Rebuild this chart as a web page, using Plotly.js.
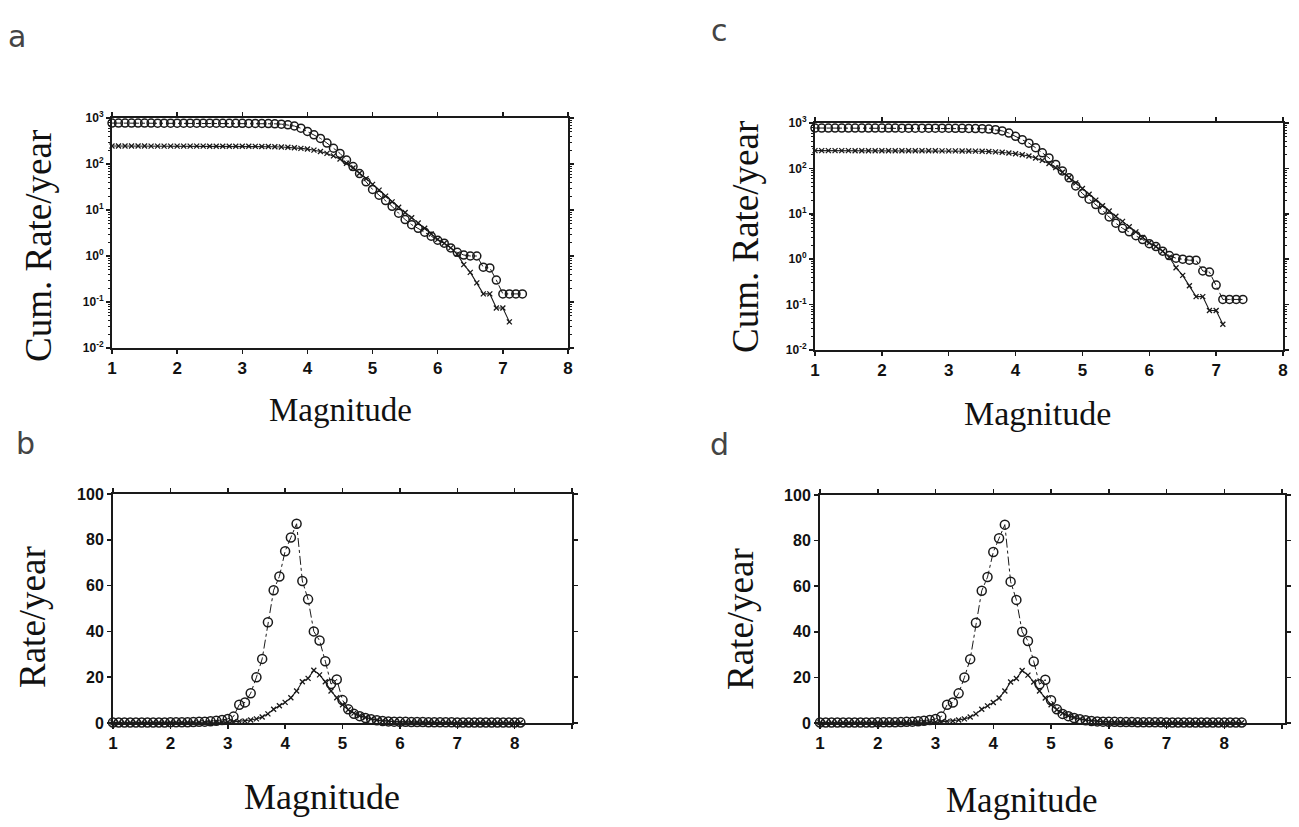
<!DOCTYPE html>
<html>
<head>
<meta charset="utf-8">
<script src="https://cdn.plot.ly/plotly-3.0.1.min.js"></script>
<style>html,body{margin:0;padding:0;background:#fff;}#chart{width:1299px;height:827px;}</style>
</head>
<body>
<div id="chart"></div>
<script>
// Magnitude bins (0.1 step)
const mags = [1.0,1.1,1.2,1.3,1.4,1.5,1.6,1.7,1.8,1.9,
  2.0,2.1,2.2,2.3,2.4,2.5,2.6,2.7,2.8,2.9,
  3.0,3.1,3.2,3.3,3.4,3.5,3.6,3.7,3.8,3.9,
  4.0,4.1,4.2,4.3,4.4,4.5,4.6,4.7,4.8,4.9,
  5.0,5.1,5.2,5.3,5.4,5.5,5.6,5.7,5.8,5.9,
  6.0,6.1,6.2,6.3,6.4,6.5,6.6,6.7,6.8,6.9,
  7.0,7.1,7.2,7.3,7.4,7.5,7.6,7.7,7.8,7.9,
  8.0,8.1,8.2,8.3];

// Panel a: cumulative rate/year
const cumCircA = [775,775,775,774,774,774,774,773,773,773,
  772,772,772,771,771,770,770,769,768,767,
  766,764,762,759,755,748,735,712,670,600,
  510,430,360,285,220,170,122,88,62,41,
  28,21,16,12,8.5,6.2,4.8,4.0,3.3,2.7,
  2.2,1.9,1.5,1.2,1.05,1.0,1.0,0.57,0.55,0.30,
  0.15,0.15,0.15,0.15];
const cumCrossA = [246,246,246,246,246,246,245,245,245,245,
  245,245,245,245,245,244,244,244,244,243,
  243,243,242,241,240,238,235,231,226,219,
  211,200,187,170,150,128,104,82,63,48,
  36,27,20,15,11.5,8.8,6.8,5.2,4.0,3.0,
  2.3,1.9,1.5,1.1,0.65,0.44,0.26,0.15,0.15,0.074,
  0.074,0.037];

// Panel c: cumulative rate/year
const cumCircC = [775,775,775,774,774,774,774,773,773,773,
  772,772,772,771,771,770,770,769,768,767,
  766,764,762,759,755,748,735,712,670,600,
  510,430,360,285,220,170,122,88,62,41,
  28,21,16,12,8.5,6.2,4.8,4.0,3.3,2.7,
  2.2,1.9,1.5,1.2,1.05,1.0,0.95,0.95,0.55,0.52,
  0.27,0.13,0.13,0.13,0.13];
const cumCrossC = [246,246,246,246,246,246,245,245,245,245,
  245,245,245,245,245,244,244,244,244,243,
  243,243,242,241,240,238,235,231,226,219,
  211,200,187,170,150,128,104,82,63,48,
  36,27,20,15,11.5,8.8,6.8,5.2,4.0,3.0,
  2.3,1.9,1.5,1.1,0.65,0.44,0.26,0.15,0.15,0.074,
  0.074,0.037];

// Panel b: rate/year
const incCircB = [0.2,0.2,0.2,0.2,0.2,0.2,0.2,0.2,0.2,0.2,
  0.3,0.3,0.3,0.3,0.4,0.5,0.6,0.8,1.0,1.3,
  1.8,2.8,8,9,13,20,28,44,58,64,
  75,81,87,62,54,40,36,27,17,19,
  10,6,4,3,2.2,1.6,1.2,0.9,0.7,0.6,
  0.5,0.5,0.4,0.4,0.4,0.3,0.3,0.3,0.3,0.3,
  0.2,0.2,0.2,0.2,0.2,0.2,0.2,0.2,0.2,0.2,
  0.2,0.2];
const incCrossB = [0.1,0.1,0.1,0.1,0.1,0.1,0.1,0.1,0.1,0.1,
  0.1,0.1,0.1,0.1,0.1,0.2,0.2,0.2,0.3,0.3,
  0.4,0.5,0.7,0.9,1.3,1.8,2.6,4,6,7.5,
  9,11,14,18,19.5,23,21,18,14,11,
  8,5.8,4.3,3.2,2.4,1.8,1.3,1.0,0.8,0.6,
  0.5,0.4,0.35,0.3,0.25,0.2,0.2,0.15,0.15,0.15,
  0.1,0.1,0.1,0.1,0.1,0.1,0.1,0.1,0.1,0.1,
  0.1,0.1];

// Panel d: rate/year
const incCircD = [0.2,0.2,0.2,0.2,0.2,0.2,0.2,0.2,0.2,0.2,
  0.3,0.3,0.3,0.3,0.4,0.5,0.6,0.8,1.0,1.3,
  1.8,2.8,8,9,13,20,28,44,58,64,
  75,81,87,62,54,40,36,27,17,19,
  10,6,4,3,2.2,1.6,1.2,0.9,0.7,0.6,
  0.5,0.5,0.4,0.4,0.4,0.3,0.3,0.3,0.3,0.3,
  0.2,0.2,0.2,0.2,0.2,0.2,0.2,0.2,0.2,0.2,
  0.2,0.2,0.2,0.2];
const incCrossD = [0.1,0.1,0.1,0.1,0.1,0.1,0.1,0.1,0.1,0.1,
  0.1,0.1,0.1,0.1,0.1,0.2,0.2,0.2,0.3,0.3,
  0.4,0.5,0.7,0.9,1.3,1.8,2.6,4,6,7.5,
  9,11,14,18,19.5,23,21,18,14,11,
  8,5.8,4.3,3.2,2.4,1.8,1.3,1.0,0.8,0.6,
  0.5,0.4,0.35,0.3,0.25,0.2,0.2,0.15,0.15,0.15,
  0.1,0.1,0.1,0.1,0.1,0.1,0.1,0.1,0.1,0.1,
  0.1,0.1,0.1,0.1];

const logTickVals = [0.01,0.1,1,10,100,1000];
const logTickText = ['10<sup>-2</sup>','10<sup>-1</sup>','10<sup>0</sup>','10<sup>1</sup>','10<sup>2</sup>','10<sup>3</sup>'];
const magTicks = [1,2,3,4,5,6,7,8];
const rateTicks = [0,20,40,60,80,100];

const INK = '#1a1a1a';
function circ(y, xa, ya, sz) {
  return {x: mags.slice(0, y.length), y: y, xaxis: xa, yaxis: ya, type: 'scatter', mode: 'lines+markers',
    line: {color: INK, width: 1, dash: 'dashdot'},
    marker: {symbol: 'circle-open', size: sz, color: INK, line: {width: 1.5, color: INK}},
    showlegend: false, cliponaxis: false};
}
function cross(y, xa, ya) {
  return {x: mags.slice(0, y.length), y: y, xaxis: xa, yaxis: ya, type: 'scatter', mode: 'lines+markers',
    line: {color: INK, width: 1.1},
    marker: {symbol: 'x-thin', size: 5, color: INK, line: {width: 1.3, color: INK}},
    showlegend: false, cliponaxis: false};
}

const traces = [
  circ(cumCircA, 'x', 'y', 8), cross(cumCrossA, 'x', 'y'),
  circ(incCircB, 'x2', 'y2', 9), cross(incCrossB, 'x2', 'y2'),
  circ(cumCircC, 'x3', 'y3', 8), cross(cumCrossC, 'x3', 'y3'),
  circ(incCircD, 'x4', 'y4', 9), cross(incCrossD, 'x4', 'y4')
];

const W = 1299, H = 827;
function dx(a, b) { return [a / W, b / W]; }
function dy(top, bottom) { return [1 - bottom / H, 1 - top / H]; }

const axBase = {showline: true, linecolor: INK, linewidth: 2, mirror: 'ticks', ticks: 'outside',
  ticklen: 4, tickwidth: 1.5, tickcolor: INK, showgrid: false, zeroline: false, fixedrange: true,
  tickfont: {family: 'Liberation Sans, Arial, sans-serif', size: 16, color: '#111', weight: 700}};

function xMag(dom, range, anchor) {
  return Object.assign({}, axBase, {domain: dom, range: range, anchor: anchor, tickmode: 'array', tickvals: magTicks, ticktext: magTicks.map(String),
    tickfont: {family: 'Liberation Sans, Arial, sans-serif', size: 17, color: '#111', weight: 700},
    minor: {tickvals: [9], ticks: 'outside', ticklen: 4, tickwidth: 1.5, tickcolor: INK}});
}
function yLog(dom, anchor) {
  return Object.assign({}, axBase, {domain: dom, anchor: anchor, type: 'log', range: [-2, 3], tickmode: 'array', tickvals: logTickVals, ticktext: logTickText,
    tickfont: {family: 'Liberation Sans, Arial, sans-serif', size: 12, color: '#111', weight: 700},
    minor: {dtick: 'D1', ticks: 'outside', ticklen: 2, tickwidth: 1, tickcolor: INK}});
}
function yLin(dom, anchor) {
  return Object.assign({}, axBase, {domain: dom, anchor: anchor, range: [0, 100], tickmode: 'array', tickvals: rateTicks, ticktext: rateTicks.map(String)});
}

const serif = 'Liberation Serif, Times New Roman, serif';
function ann(text, x, y, size, angle, family, color) {
  return {text: text, x: x / W, y: 1 - y / H, xref: 'paper', yref: 'paper', showarrow: false,
    xanchor: 'center', yanchor: 'middle', textangle: angle || 0,
    font: {family: family || serif, size: size, color: color || '#111'}};
}
const letterFont = 'DejaVu Sans, sans-serif';

const layout = {
  width: W, height: H, margin: {l: 0, r: 0, t: 0, b: 0}, paper_bgcolor: '#fff', plot_bgcolor: '#fff',
  showlegend: false,
  xaxis: xMag(dx(112, 568), [1, 8], 'y'),
  yaxis: yLog(dy(118, 348), 'x'),
  xaxis2: xMag(dx(113, 572), [1, 9], 'y2'),
  yaxis2: yLin(dy(494, 723), 'x2'),
  xaxis3: xMag(dx(815, 1283), [1, 8], 'y3'),
  yaxis3: yLog(dy(123, 350), 'x3'),
  xaxis4: xMag(dx(820, 1285), [1, 9.05], 'y4'),
  yaxis4: yLin(dy(495, 723), 'x4'),
  annotations: [
    ann('a', 17, 36, 30, 0, letterFont, '#444'),
    ann('c', 719, 30, 30, 0, letterFont, '#444'),
    ann('b', 25, 443, 30, 0, letterFont, '#444'),
    ann('d', 719, 445, 30, 0, letterFont, '#444'),
    ann('Cum. Rate/year', 38, 246, 37, -90),
    ann('Magnitude', 340, 410, 33),
    ann('Rate/year', 32, 617, 37, -90),
    ann('Magnitude', 322, 797, 36),
    ann('Cum. Rate/year', 745, 237, 37, -90),
    ann('Magnitude', 1037, 413, 34),
    ann('Rate/year', 740, 619, 37, -90),
    ann('Magnitude', 1022, 800, 35)
  ]
};

Plotly.newPlot('chart', traces, layout, {displayModeBar: false, staticPlot: true});
</script>
</body>
</html>
